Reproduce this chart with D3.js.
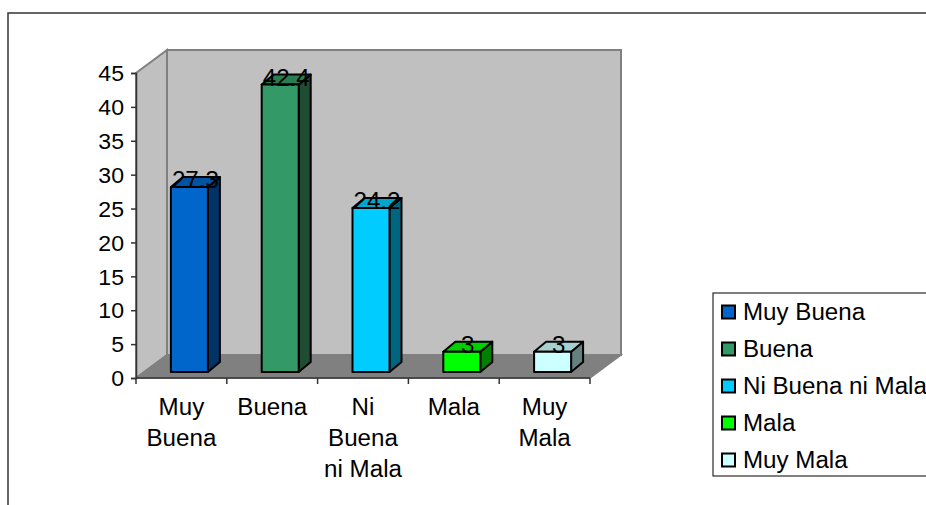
<!DOCTYPE html>
<html>
<head>
<meta charset="utf-8">
<script src="https://cdn.jsdelivr.net/npm/d3@7"></script>
<style>
  html, body { margin: 0; padding: 0; background: #fff; }
  svg text { font-family: "Liberation Sans", Arial, sans-serif; fill: #000; }
</style>
</head>
<body>
<svg id="chart" width="926" height="505"></svg>
<script>
// Ratings and their shares (%)
const categories = ["Muy Buena", "Buena", "Ni Buena ni Mala", "Mala", "Muy Mala"];
const values = [27.3, 42.4, 24.2, 3, 3];
const valueLabels = ["27.3", "42.4", "24.2", "3", "3"];
const axisLabelLines = [["Muy", "Buena"], ["Buena"], ["Ni", "Buena", "ni Mala"], ["Mala"], ["Muy", "Mala"]];
const yTicks = [0, 5, 10, 15, 20, 25, 30, 35, 40, 45];
const frontColors = ["#0066CC", "#339966", "#00CCFF", "#00FF00", "#CCFFFF"];
const topColors = ["#0052A3", "#2A7D52", "#00A6D0", "#00D000", "#A6D0D0"];
const sideColors = ["#003366", "#1E4D33", "#006680", "#008000", "#668080"];

const svg = d3.select("#chart");
const FS = 23, FS_TICK = 22, SX = 1.05;   // font sizes and horizontal text stretch

// outer chart frame
svg.append("rect").attr("x", 8).attr("y", 13).attr("width", 1000).attr("height", 600)
  .attr("fill", "none").attr("stroke", "#333").attr("stroke-width", 1.5);

// scales on the front plane
const x = d3.scaleBand().domain(categories).range([136, 590]);
const y = d3.scaleLinear().domain([0, 45]).range([378, 73]);
const DX = 31, DY = -23;           // depth of the floor / walls
const bx0 = 8, by0 = -6;           // bar front offset into the depth
const bdx = 12, bdy = -10;         // bar depth
const bw = 37;

const [x0, x1] = x.range();
const yb = y(0), yt = y(45);

// left wall
svg.append("polygon")
  .attr("points", [[x0, yt], [x0 + DX, yt + DY], [x0 + DX, yb + DY], [x0, yb]].join(" "))
  .attr("fill", "#C0C0C0").attr("stroke", "#808080").attr("stroke-width", 2);
// back wall
svg.append("polygon")
  .attr("points", [[x0 + DX, yt + DY], [x1 + DX, yt + DY], [x1 + DX, yb + DY], [x0 + DX, yb + DY]].join(" "))
  .attr("fill", "#C0C0C0").attr("stroke", "#808080").attr("stroke-width", 2);
// floor
svg.append("polygon")
  .attr("points", [[x0, yb], [x0 + DX, yb + DY], [x1 + DX, yb + DY], [x1, yb]].join(" "))
  .attr("fill", "#808080").attr("stroke", "#808080").attr("stroke-width", 1.5);

// y axis
const yAxis = d3.axisLeft(y).tickValues(yTicks).tickSize(5).tickPadding(5);
const gy = svg.append("g").attr("transform", `translate(${x0},0)`).call(yAxis);
gy.select(".domain").attr("stroke", "#333").attr("stroke-width", 1.5);
gy.selectAll(".tick line").attr("stroke", "#333").attr("stroke-width", 1.5);
gy.selectAll(".tick text")
  .attr("x", null).attr("dy", "0.35em").attr("font-size", FS_TICK)
  .attr("transform", `translate(-12,0) scale(${SX},1)`).attr("text-anchor", "end")
  .style("font-family", "'Liberation Sans', Arial, sans-serif").attr("fill", "#000");

// x axis line and category boundary ticks
svg.append("line").attr("x1", x0).attr("x2", x1).attr("y1", yb).attr("y2", yb)
  .attr("stroke", "#333").attr("stroke-width", 1.5);
const bounds = categories.map(c => x(c)).concat([x1]);
svg.selectAll(".xtick").data(bounds).enter().append("line")
  .attr("x1", d => d).attr("x2", d => d).attr("y1", yb).attr("y2", yb + 6)
  .attr("stroke", "#333").attr("stroke-width", 1.5);

// category labels
categories.forEach((c, i) => {
  const cx = x(c) + x.bandwidth() / 2;
  axisLabelLines[i].forEach((line, j) => {
    svg.append("text")
      .attr("transform", `translate(${cx},${415 + j * 31}) scale(${SX},1)`)
      .attr("text-anchor", "middle").attr("font-size", FS).text(line);
  });
});

// 3D columns
const yBar = v => y(v) + by0;
const bars = svg.append("g");
categories.forEach((c, i) => {
  const v = values[i];
  const left = x(c) + x.bandwidth() / 2 - bw / 2 + bx0;
  const right = left + bw;
  const top = yBar(v), bottom = yBar(0);
  const g = bars.append("g").attr("stroke", "#000").attr("stroke-width", 2).attr("stroke-linejoin", "round");
  g.append("polygon")
    .attr("points", [[right, top], [right + bdx, top + bdy], [right + bdx, bottom + bdy], [right, bottom]].join(" "))
    .attr("fill", sideColors[i]);
  g.append("polygon")
    .attr("points", [[left, top], [left + bdx, top + bdy], [right + bdx, top + bdy], [right, top]].join(" "))
    .attr("fill", topColors[i]);
  g.append("rect").attr("x", left).attr("y", top).attr("width", bw).attr("height", bottom - top)
    .attr("fill", frontColors[i]);
});

// value labels
categories.forEach((c, i) => {
  const cx = x(c) + x.bandwidth() / 2 + bx0 + bdx / 2;
  svg.append("text")
    .attr("transform", `translate(${cx},${yBar(values[i]) + 1}) scale(${SX},1)`)
    .attr("text-anchor", "middle").attr("font-size", FS).text(valueLabels[i]);
});

// legend
const lg = svg.append("g");
lg.append("rect").attr("x", 713).attr("y", 293).attr("width", 300).attr("height", 183)
  .attr("fill", "#fff").attr("stroke", "#000").attr("stroke-width", 1);
categories.forEach((c, i) => {
  const cy = 312 + i * 37;
  lg.append("rect").attr("x", 722).attr("y", cy - 6.5).attr("width", 13).attr("height", 13)
    .attr("fill", frontColors[i]).attr("stroke", "#000").attr("stroke-width", 2);
  lg.append("text")
    .attr("transform", `translate(743,${cy}) scale(${SX},1)`)
    .attr("dy", "0.35em").attr("font-size", FS).text(c);
});
</script>
</body>
</html>
